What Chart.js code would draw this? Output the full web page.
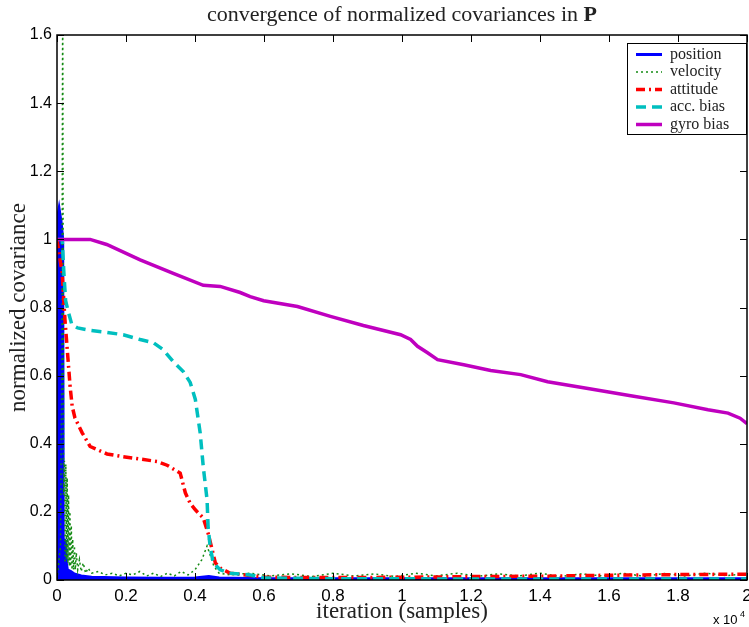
<!DOCTYPE html>
<html lang="en">
<head>
  <meta charset="UTF-8">
  <title>convergence of normalized covariances in P</title>
  <script src="https://cdn.jsdelivr.net/npm/chart.js"></script>
  <style>
    html, body { margin: 0; padding: 0; background: #ffffff; }
    #wrap { width: 749px; height: 627px; position: relative; }
  </style>
</head>
<body>
<div id="wrap"><canvas id="covChart" width="749" height="627"></canvas></div>

<script>
  // tick labels (x axis is in units of 10^4 samples)
  const xTickLabels = ['0', '0.2', '0.4', '0.6', '0.8', '1', '1.2', '1.4', '1.6', '1.8', '2'];
  const yTickLabels = ['0', '0.2', '0.4', '0.6', '0.8', '1', '1.2', '1.4', '1.6'];

  const seriesNames = ['position', 'velocity', 'attitude', 'acc. bias', 'gyro bias'];

  // position
  const posX = [0, 10, 60, 120, 165, 180, 250, 270, 300, 400, 500, 700, 1000, 2000, 3000, 4000, 4400, 4700, 6000, 10000, 20000];
  const posY = [0, 1.06, 1.09, 1.05, 1.0, 0.12, 0.115, 0.05, 0.03, 0.025, 0.018, 0.012, 0.008, 0.006, 0.005, 0.006, 0.01, 0.006, 0.004, 0.004, 0.004];

  // velocity
  const velX = [0, 100, 140, 165, 190, 215, 235, 255, 275, 295, 315, 335, 355, 375, 395, 415, 435, 455, 480, 505, 530, 560, 600, 650, 700, 760, 830, 900, 1000, 1200, 1400, 1600, 1800, 2000, 2200, 2400, 2600, 2800, 3000, 3200, 3400, 3600, 3800, 4000, 4200, 4350, 4450, 4550, 4700, 5000, 5600, 6200, 6800, 7400, 8000, 8600, 9200, 9800, 10400, 11000, 11600, 12200, 12800, 13400, 14000, 14600, 15200, 15800, 16400, 17000, 17600, 18200, 18800, 19400, 20000];
  const velY = [0, 0.1, 0.6, 1.75, 0.25, 0.35, 0.05, 0.34, 0.06, 0.3, 0.05, 0.25, 0.04, 0.2, 0.04, 0.16, 0.03, 0.12, 0.03, 0.1, 0.03, 0.08, 0.03, 0.06, 0.025, 0.05, 0.02, 0.035, 0.02, 0.025, 0.015, 0.02, 0.012, 0.02, 0.015, 0.025, 0.012, 0.02, 0.01, 0.02, 0.012, 0.025, 0.015, 0.03, 0.06, 0.1, 0.07, 0.04, 0.02, 0.015, 0.02, 0.012, 0.018, 0.01, 0.02, 0.012, 0.018, 0.01, 0.02, 0.012, 0.02, 0.011, 0.018, 0.012, 0.02, 0.01, 0.018, 0.012, 0.02, 0.011, 0.019, 0.012, 0.02, 0.013, 0.018];

  // attitude
  const attX = [0, 150, 230, 320, 380, 440, 520, 730, 960, 1450, 1920, 2410, 2900, 3190, 3570, 3720, 3860, 4010, 4240, 4380, 4500, 4590, 4730, 5020, 6000, 8000, 10000, 12000, 14000, 16000, 18000, 20000];
  const attY = [1, 0.9, 0.765, 0.647, 0.568, 0.51, 0.476, 0.432, 0.392, 0.37, 0.362, 0.355, 0.348, 0.337, 0.314, 0.256, 0.225, 0.206, 0.182, 0.137, 0.088, 0.05, 0.035, 0.02, 0.008, 0.007, 0.008, 0.01, 0.011, 0.014, 0.016, 0.017];

  // acc. bias
  const accX = [0, 150, 200, 250, 320, 430, 600, 960, 1450, 1920, 2410, 2790, 3080, 3370, 3660, 3860, 4010, 4150, 4240, 4350, 4380, 4440, 4530, 4730, 5000, 5600, 6000, 8000, 12000, 20000];
  const accY = [1, 1.0, 0.9, 0.82, 0.79, 0.75, 0.74, 0.733, 0.727, 0.72, 0.706, 0.697, 0.676, 0.641, 0.612, 0.58, 0.53, 0.432, 0.332, 0.235, 0.156, 0.097, 0.05, 0.03, 0.02, 0.015, 0.006, 0.004, 0.003, 0.003];

  // gyro bias
  const gyroX = [0, 500, 960, 1440, 2410, 3370, 4240, 4730, 5310, 5600, 5990, 6970, 7925, 8880, 9960, 10250, 10450, 10740, 11030, 11790, 12570, 13440, 14220, 15390, 16630, 17880, 18870, 19450, 19800, 20000];
  const gyroY = [1, 1, 1, 0.985, 0.94, 0.90, 0.865, 0.862, 0.844, 0.832, 0.82, 0.803, 0.774, 0.747, 0.72, 0.706, 0.686, 0.667, 0.647, 0.632, 0.615, 0.603, 0.582, 0.562, 0.541, 0.52, 0.5, 0.49, 0.475, 0.459];

  const pts = (xs, ys) => xs.map((x, i) => ({ x: x, y: ys[i] }));

  const SERIF = '"Liberation Serif", "DejaVu Serif", serif';
  const SANS = '"Liberation Sans", Arial, sans-serif';

  // titles, box, inward ticks, legend, exponent label
  const matlabLook = {
    id: 'matlabLook',
    afterDraw(chart) {
      const ctx = chart.ctx;
      const a = chart.chartArea;
      const xs = chart.scales.x, ys = chart.scales.y;
      ctx.save();

      // box
      ctx.strokeStyle = '#000';
      ctx.lineWidth = 1.5;
      ctx.strokeRect(a.left, a.top, a.right - a.left, a.bottom - a.top);

      // ticks inside on all four sides
      ctx.lineWidth = 1;
      ctx.beginPath();
      xs.ticks.forEach(t => {
        const p = Math.round(xs.getPixelForValue(t.value)) + 0.5;
        ctx.moveTo(p, a.bottom); ctx.lineTo(p, a.bottom - 7);
        ctx.moveTo(p, a.top); ctx.lineTo(p, a.top + 7);
      });
      ys.ticks.forEach(t => {
        const p = Math.round(ys.getPixelForValue(t.value)) + 0.5;
        ctx.moveTo(a.left, p); ctx.lineTo(a.left + 7, p);
        ctx.moveTo(a.right, p); ctx.lineTo(a.right - 7, p);
      });
      ctx.stroke();

      // title with bold P
      const cx = (a.left + a.right) / 2;
      ctx.fillStyle = '#222';
      ctx.textBaseline = 'alphabetic';
      ctx.font = '22px ' + SERIF;
      const t1 = 'convergence of normalized covariances in ';
      const w1 = ctx.measureText(t1).width;
      ctx.font = 'bold 22px ' + SERIF;
      const w2 = ctx.measureText('P').width;
      const tx = cx - (w1 + w2) / 2;
      ctx.font = '22px ' + SERIF;
      ctx.textAlign = 'left';
      ctx.fillText(t1, tx, 21);
      ctx.font = 'bold 22px ' + SERIF;
      ctx.fillText('P', tx + w1, 21);

      // axis titles
      ctx.font = '23px ' + SERIF;
      ctx.textAlign = 'center';
      ctx.fillText('iteration (samples)', cx, 618);
      ctx.save();
      ctx.translate(25, (a.top + a.bottom) / 2);
      ctx.rotate(-Math.PI / 2);
      ctx.fillText('normalized covariance', 0, 0);
      ctx.restore();

      // x 10^4
      ctx.fillStyle = '#000';
      ctx.font = '13px ' + SANS;
      ctx.textAlign = 'left';
      ctx.fillText('x 10', 713, 624);
      ctx.font = '9px ' + SANS;
      ctx.fillText('4', 740, 617);

      // legend
      const lx = 627, ly = 43, lw = a.right - lx, lh = 92;
      ctx.fillStyle = '#fff';
      ctx.fillRect(lx, ly, lw, lh);
      ctx.strokeStyle = '#000';
      ctx.lineWidth = 1;
      ctx.strokeRect(lx + 0.5, ly + 0.5, lw - 1, lh - 1);
      chart.data.datasets.forEach((ds, i) => {
        const yy = 54.5 + i * 17.5;
        ctx.save();
        ctx.strokeStyle = ds.borderColor;
        ctx.lineWidth = ds.borderWidth;
        ctx.setLineDash(ds.borderDash || []);
        ctx.beginPath();
        ctx.moveTo(636, yy); ctx.lineTo(662, yy);
        ctx.stroke();
        ctx.restore();
        ctx.fillStyle = '#222';
        ctx.font = '16px ' + SERIF;
        ctx.textAlign = 'left';
        ctx.textBaseline = 'middle';
        ctx.fillText(ds.label, 670, yy);
      });
      ctx.restore();
    }
  };

  const ctx = document.getElementById('covChart').getContext('2d');
  new Chart(ctx, {
    type: 'line',
    data: {
      datasets: [
        { label: seriesNames[0], data: pts(posX, posY), borderColor: '#0000ff', backgroundColor: '#0000ff',
          borderWidth: 3, fill: 'origin', order: 4 },
        { label: seriesNames[1], data: pts(velX, velY), borderColor: '#138a13',
          borderWidth: 1.5, borderDash: [2, 3], order: 3 },
        { label: seriesNames[2], data: pts(attX, attY), borderColor: '#ff0000',
          borderWidth: 3.5, borderDash: [9, 4, 2, 4], order: 2 },
        { label: seriesNames[3], data: pts(accX, accY), borderColor: '#00bfbf',
          borderWidth: 3.5, borderDash: [10, 6], order: 1 },
        { label: seriesNames[4], data: pts(gyroX, gyroY), borderColor: '#bf00bf',
          borderWidth: 3.5, order: 0 }
      ]
    },
    options: {
      responsive: false,
      animation: false,
      elements: { point: { radius: 0 }, line: { tension: 0 } },
      layout: { padding: { top: 35, right: 2, left: 0, bottom: 0 } },
      plugins: { legend: { display: false }, title: { display: false }, tooltip: { enabled: false } },
      scales: {
        x: {
          type: 'linear', min: 0, max: 20000,
          grid: { display: false, drawTicks: false },
          border: { display: false },
          ticks: {
            stepSize: 2000, padding: 6, color: '#000',
            font: { family: SANS, size: 17 },
            maxRotation: 0, autoSkip: false,
            callback: (v, i) => xTickLabels[i]
          },
          afterFit: s => { s.height = 47; s.paddingLeft = 0; s.paddingRight = 0; }
        },
        y: {
          type: 'linear', min: 0, max: 1.6,
          grid: { display: false, drawTicks: false },
          border: { display: false },
          ticks: {
            stepSize: 0.2, padding: 5, color: '#000',
            font: { family: SANS, size: 16 },
            autoSkip: false,
            callback: (v, i) => yTickLabels[i]
          },
          afterFit: s => { s.width = 57; s.paddingTop = 0; s.paddingBottom = 0; }
        }
      }
    },
    plugins: [matlabLook]
  });
</script>
</body>
</html>
